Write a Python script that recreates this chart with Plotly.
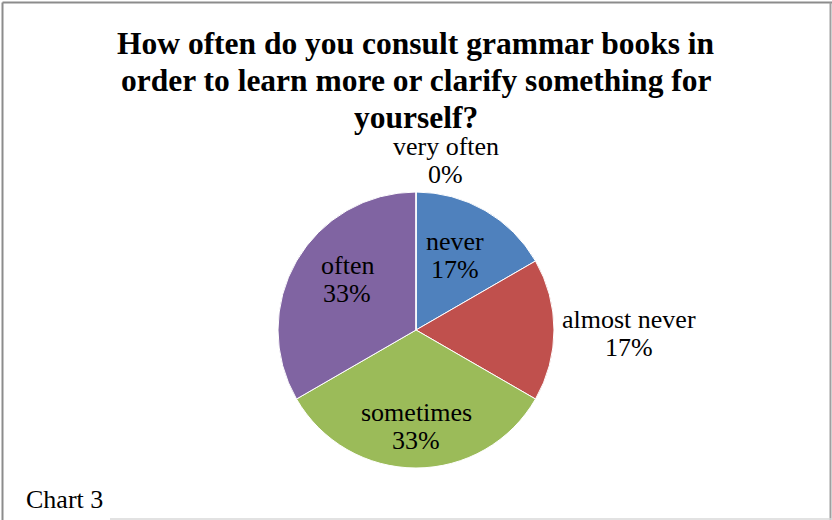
import math
import plotly.graph_objects as go

# Survey answers
categories = ["never", "almost never", "sometimes", "often", "very often"]
counts = [1, 1, 2, 2, 0]
colors = ["#4F81BD", "#C0504D", "#9BBB59", "#8064A2", "#4BACC6"]

title_lines = ["How often do you consult grammar books in",
               "order to learn more or clarify something for",
               "yourself?"]
caption = "Chart 3"

SERIF = "'Liberation Serif', 'Times New Roman', Times, serif"

# Label distance from centre (fraction of radius) and angular nudge (degrees)
label_radius = [0.61, 1.547, 0.70, 0.62, 1.25]
label_angle_shift = [-2.5, 1, 0, 6.5, 10]

W, H = 832, 520
cx, cy, R = 416, 330, 138
LABEL_SIZE = 26
LINE_GAP = 28


def paper(px, py):
    return px / W, 1 - py / H


fig = go.Figure(go.Pie(
    labels=categories,
    values=counts,
    sort=False,
    direction="clockwise",
    rotation=0,
    marker=dict(colors=colors, line=dict(color="white", width=1)),
    textinfo="none",
    hoverinfo="label+percent",
    showlegend=False,
    domain=dict(x=[(cx - R) / W, (cx + R) / W],
                y=[1 - (cy + R) / H, 1 - (cy - R) / H]),
))

annotations = []


def add_text(text, px, py, size, anchor="center"):
    x, y = paper(px, py)
    annotations.append(dict(
        x=x, y=y, xref="paper", yref="paper", text=text, showarrow=False,
        font=dict(family=SERIF, size=size, color="black"),
        xanchor=anchor, yanchor="middle", align="center",
    ))


# Category name and percentage for each slice, placed along its mid-angle
total = sum(counts)
start = 0.0
for name, v, rf, shift in zip(categories, counts, label_radius, label_angle_shift):
    span = 360.0 * v / total
    mid = math.radians(start + span / 2 + shift)
    start += span
    px = cx + rf * R * math.sin(mid)
    py = cy - rf * R * math.cos(mid)
    pct = round(100 * v / total)
    add_text(name, px, py - LINE_GAP / 2, LABEL_SIZE)
    add_text(f"{pct}%", px, py + LINE_GAP / 2, LABEL_SIZE)

# Title, one line at a time
for i, line in enumerate(title_lines):
    add_text(f"<b>{line}</b>", 416, 43 + 37.5 * i, 31.5)

add_text(caption, 24, 499, LABEL_SIZE, anchor="left")

# Frame around the chart
shapes = [
    dict(type="line", xref="paper", yref="paper", x0=2.5 / W, x1=2.5 / W,
         y0=0, y1=1 - 2.5 / H, line=dict(color="#8c8c8c", width=2)),
    dict(type="line", xref="paper", yref="paper", x0=2.5 / W, x1=1,
         y0=1 - 2.5 / H, y1=1 - 2.5 / H, line=dict(color="#8c8c8c", width=2)),
    dict(type="line", xref="paper", yref="paper", x0=830.5 / W, x1=830.5 / W,
         y0=0, y1=1 - 2.5 / H, line=dict(color="#a0a0a0", width=2)),
    dict(type="line", xref="paper", yref="paper", x0=110 / W, x1=1,
         y0=1 - 519 / H, y1=1 - 519 / H, line=dict(color="#d8d8d8", width=1.5)),
]

fig.update_layout(
    width=W, height=H,
    margin=dict(l=0, r=0, t=0, b=0),
    paper_bgcolor="white", plot_bgcolor="white",
    font=dict(family=SERIF),
    annotations=annotations, shapes=shapes,
)

fig.write_html("out.html")
